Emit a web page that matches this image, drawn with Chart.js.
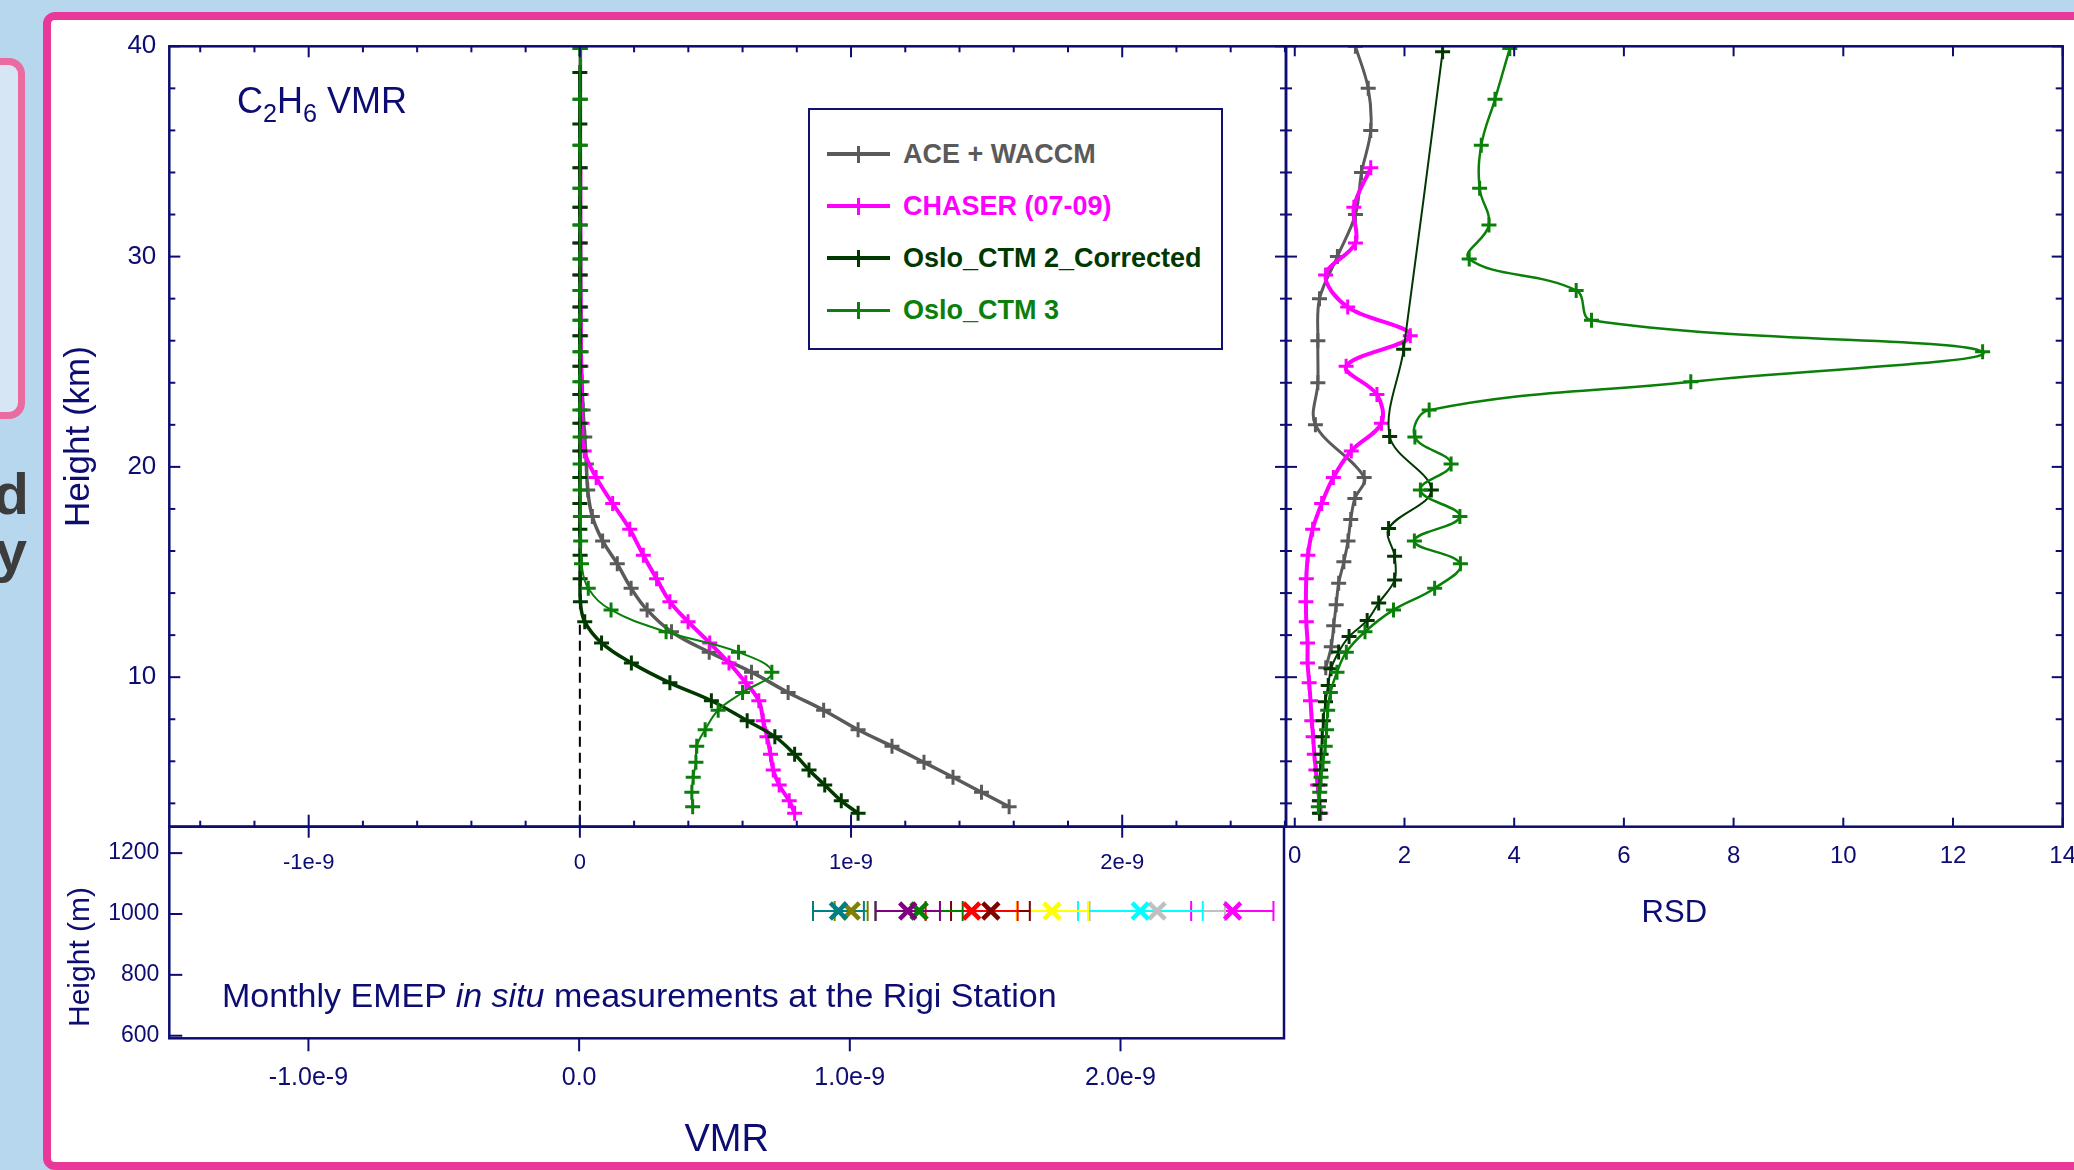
<!DOCTYPE html>
<html>
<head>
<meta charset="utf-8">
<title>C2H6 VMR and RSD profiles</title>
<script src="https://cdn.jsdelivr.net/npm/chart.js@4.4.0/dist/chart.umd.min.js"></script>
<style>
  html, body { margin: 0; padding: 0; }
  body { width: 2074px; height: 1170px; overflow: hidden; position: relative;
         background: #b6d7ee; font-family: "Liberation Sans", Arial, sans-serif; }
  .abs { position: absolute; }
  #sideBox { left: -40px; top: 58px; width: 65px; height: 361px; box-sizing: border-box;
             border: 7.5px solid #eb6aa0; border-radius: 16px; background: #d6e6f5; }
  .sideText { position: absolute; left: -100px; text-align: right; font-weight: bold;
              font-size: 58px; line-height: 58px; color: #3c3c3c; }
  #frame { left: 43px; top: 12px; width: 2100px; height: 1158px; box-sizing: border-box;
           border: 8px solid #e8389a; border-radius: 12px; background: #fff; }
  canvas { position: absolute; }
  #legend { left: 808px; top: 108px; width: 415px; height: 242px; box-sizing: border-box;
            border: 2px solid #10106e; background: #fff; }
  .sample { position: absolute; left: 17px; width: 63px; }
  .sample i { position: absolute; left: 30px; width: 3px; height: 17px; }
  .entry { position: absolute; left: 93px; font-weight: bold; font-size: 27px; line-height: 27px; white-space: nowrap; }
  .navy { color: #0c0c72; white-space: nowrap; }
  #species { left: 237px; top: 83px; font-size: 36px; line-height: 36px; }
  #species sub { font-size: 0.7em; vertical-align: -0.35em; line-height: 0; }
  #emepNote { left: 222px; top: 978px; font-size: 34px; line-height: 34px; }
  #heightM { left: 79px; top: 957px; font-size: 30px; line-height: 30px;
             transform: translate(-50%, -50%) rotate(-90deg); }
</style>
</head>
<body>
<div id="sideBox" class="abs"></div>
<div class="sideText" style="top:465px; width:129px;">d</div>
<div class="sideText" style="top:522px; width:127px;">y</div>
<div id="frame" class="abs"></div>

<canvas id="vmrChart" width="1300" height="900" style="left:0; top:0;"></canvas>
<canvas id="emepChart" width="1300" height="370" style="left:0; top:800px;"></canvas>
<canvas id="rsdChart" width="850" height="960" style="left:1270px; top:0;"></canvas>

<div id="legend" class="abs"></div>
<div id="species" class="abs navy">C<sub>2</sub>H<sub>6</sub> VMR</div>
<div id="emepNote" class="abs navy">Monthly EMEP <i>in situ</i> measurements at the Rigi Station</div>
<div id="heightM" class="abs navy">Height (m)</div>

<script>
const NAVY = '#0c0c72';
const GRAY = '#5a5a5a', MAGENTA = '#ff00ff', DKGREEN = '#003800', GREEN = '#0a800a';

const seriesNames = ['ACE + WACCM', 'CHASER (07-09)', 'Oslo_CTM 2_Corrected', 'Oslo_CTM 3'];
const seriesColors = [GRAY, MAGENTA, DKGREEN, GREEN];

// model levels (km): ACE+WACCM / Oslo_CTM 3 share one grid, CHASER / Oslo_CTM 2 the other
const levelsA = [3.84, 4.53, 5.24, 5.95, 6.72, 7.5, 8.43, 9.27, 10.24, 11.19, 12.16, 13.2, 14.23, 15.39,
  16.48, 17.64, 18.9, 20.14, 21.42, 22.7, 24.05, 25.47, 26.97, 28.39, 29.89, 31.5, 33.25, 35.29, 37.48, 39.9];
const levelsB = [3.53, 4.12, 4.87, 5.59, 6.33, 7.17, 7.93, 8.88, 9.73, 10.68, 11.63, 12.64, 13.59, 14.68,
  15.8, 17.03, 18.26, 19.5, 20.76, 22.08, 23.44, 24.79, 26.24, 27.6, 29.12, 30.65, 32.35, 34.22, 36.31, 38.75];

// VMR, in units of 1e-9
const aceVmr = [1.583, 1.481, 1.376, 1.269, 1.151, 1.026, 0.899, 0.768, 0.633, 0.477, 0.338, 0.248, 0.189, 0.138,
  0.084, 0.046, 0.029, 0.024, 0.018, 0.012, 0.008, 0.005, 0.004, 0.003, 0.003, 0.002, 0.002, 0.002, 0.002, 0.002];
const chaserVmr = [0.792, 0.772, 0.735, 0.713, 0.703, 0.690, 0.676, 0.660, 0.612, 0.550, 0.479, 0.399, 0.332, 0.283,
  0.234, 0.184, 0.121, 0.060, 0.016, 0.008, 0.005, 0.004, 0.003, 0.003, 0.002, 0.002, 0.002, 0.002];
const ctm2Vmr = [1.026, 0.964, 0.903, 0.845, 0.792, 0.719, 0.617, 0.485, 0.332, 0.190, 0.080, 0.018, 0.002, 0.001,
  0.001, 0, 0, 0, 0, 0, 0, 0, 0, 0, 0, 0, 0, 0, 0, 0];
const ctm3Vmr = [0.416, 0.413, 0.418, 0.428, 0.431, 0.462, 0.51, 0.60, 0.708, 0.585, 0.318, 0.115, 0.031, 0.006,
  0.003, 0.002, 0.001, 0.001, 0.001, 0, 0, 0, 0, 0, 0, 0, 0, 0, 0, 0];
const zeroLineHeights = [2.89, 12.7];

// RSD
const aceRsdHeights = [10.45, 11.45, 12.45, 13.45, 14.47, 15.49, 16.48, 17.5, 18.5, 19.5, 22, 24, 26, 28, 30, 32, 34, 36, 38, 40];
const aceRsd = [0.565, 0.665, 0.71, 0.755, 0.80, 0.895, 0.97, 1.02, 1.095, 1.265, 0.376, 0.421, 0.421, 0.451,
  0.777, 1.106, 1.217, 1.385, 1.339, 1.106];
const chaserRsd = [0.473, 0.448, 0.417, 0.385, 0.356, 0.335, 0.31, 0.287, 0.263, 0.233, 0.233, 0.21, 0.203, 0.21,
  0.24, 0.326, 0.49, 0.703, 1.03, 1.58, 1.498, 0.936, 2.106, 0.965, 0.562, 1.106, 1.077, 1.385];
const ctm2RsdHeights = [3.53, 4.12, 4.87, 5.59, 6.33, 7.17, 7.93, 8.83, 9.6, 10.4, 11.2, 11.93, 12.7, 13.53,
  14.62, 15.75, 17.07, 18.9, 21.45, 25.59, 39.74];
const ctm2Rsd = [0.45, 0.45, 0.46, 0.47, 0.48, 0.50, 0.52, 0.56, 0.61, 0.66, 0.80, 0.99, 1.32, 1.53,
  1.82, 1.82, 1.71, 2.49, 1.73, 1.985, 2.695];
const ctm3Rsd = [0.43, 0.455, 0.48, 0.515, 0.555, 0.58, 0.60, 0.65, 0.77, 0.94, 1.28, 1.80, 2.55, 3.02,
  2.18, 3.01, 2.29, 2.85, 2.19, 2.45, 7.22, 12.54, 5.41, 5.13, 3.18, 3.54, 3.37, 3.40, 3.65, 3.92];

// monthly EMEP in situ at Rigi (VMR 1e-9, with range)
const emepColors = ['#008080', '#808000', '#800080', '#008000', '#ff0000', '#800000', '#ffff00', '#00ffff', '#c0c0c0', '#ff00ff'];
const emepVmr  = [0.958, 1.005, 1.214, 1.256, 1.450, 1.521, 1.747, 2.073, 2.135, 2.414];
const emepLow  = [0.864, 0.944, 1.095, 1.095, 1.280, 1.374, 1.616, 1.843, 1.886, 2.261];
const emepHigh = [1.052, 1.066, 1.333, 1.417, 1.620, 1.665, 1.880, 2.304, 2.386, 2.565];
const emepHeight = 1010;

// axes
const vmrRange = [-1.514, 2.604], kmRange = [2.89, 40], rsdRange = [-0.16, 14], mRange = [591.5, 1286.8];
const vmrMajor = [-1, 0, 1, 2];
const kmMajor = [10, 20, 30, 40];
const rsdMajor = [0, 2, 4, 6, 8, 10, 12, 14];
const mMajor = [600, 800, 1000, 1200];

const vmrMinor = [];
for (let i = -7; i <= 13; i++) if (i % 5) vmrMinor.push(i / 5);
const kmMinor = [];
for (let h = 4; h < 40; h += 2) if (h % 10) kmMinor.push(h);

Chart.defaults.font.family = '"Liberation Sans", Arial, sans-serif';
Chart.defaults.color = NAVY;

// box round the plot area + ticks drawn through the scales
const frameTicks = {
  id: 'frameTicks',
  afterDraw(chart, args, opts) {
    const { ctx, chartArea: a } = chart;
    ctx.save();
    ctx.strokeStyle = NAVY;
    ctx.lineWidth = 2.5;
    ctx.strokeRect(a.left, a.top, a.right - a.left, a.bottom - a.top);
    ctx.lineWidth = 2;
    for (const m of opts.marks) {
      const horiz = m.side === 'top' || m.side === 'bottom';
      const sc = chart.scales[horiz ? 'x' : 'y'];
      const inn = m.inner || 0, out = m.outer || 0;
      for (const v of m.values) {
        const p = sc.getPixelForValue(v);
        ctx.beginPath();
        if (m.side === 'bottom') { ctx.moveTo(p, a.bottom - inn); ctx.lineTo(p, a.bottom + out); }
        else if (m.side === 'top') { ctx.moveTo(p, a.top + inn); ctx.lineTo(p, a.top - out); }
        else if (m.side === 'left') { ctx.moveTo(a.left + inn, p); ctx.lineTo(a.left - out, p); }
        else { ctx.moveTo(a.right - inn, p); ctx.lineTo(a.right + out, p); }
        ctx.stroke();
      }
    }
    ctx.restore();
  }
};

function profile(heights, values, i, width, order, tension) {
  return {
    label: seriesNames[i],
    data: values.map((x, k) => ({ x, y: heights[k] })),
    showLine: true,
    borderColor: seriesColors[i],
    borderWidth: width,
    pointStyle: 'cross',
    pointRadius: 7.5,
    pointBorderWidth: 3,
    pointBorderColor: seriesColors[i],
    pointBackgroundColor: seriesColors[i],
    tension: tension,
    order: order
  };
}

const baseOpts = {
  responsive: false,
  animation: false,
  events: [],
};
const noPlugins = { legend: { display: false }, tooltip: { enabled: false } };
const fixedTicks = list => scale => { scale.ticks = list.map(v => ({ value: v })); };

// ---- top left: VMR profiles
new Chart(document.getElementById('vmrChart'), {
  type: 'scatter',
  data: {
    datasets: [
      profile(levelsA, aceVmr, 0, 3.5, 4, 0.4),
      profile(levelsB, chaserVmr, 1, 4, 3, 0.4),
      profile(levelsB, ctm2Vmr, 2, 3.5, 2, 0.4),
      profile(levelsA, ctm3Vmr, 3, 2, 1, 0.4),
      {
        data: zeroLineHeights.map(y => ({ x: 0, y })),
        showLine: true, borderColor: '#000', borderWidth: 2, borderDash: [10, 6],
        pointRadius: 0, order: 5
      }
    ]
  },
  options: {
    ...baseOpts,
    layout: { padding: { top: 46.3, right: 14, left: 0, bottom: 0 } },
    plugins: {
      ...noPlugins,
      frameTicks: {
        marks: [
          { side: 'bottom', values: vmrMinor, inner: 6 },
          { side: 'bottom', values: vmrMajor, inner: 12, outer: 11 },
          { side: 'top', values: vmrMinor, inner: 6 },
          { side: 'top', values: vmrMajor, inner: 11 },
          { side: 'left', values: kmMinor, inner: 6 },
          { side: 'left', values: kmMajor, inner: 11 },
          { side: 'right', values: kmMinor, inner: 6 },
          { side: 'right', values: kmMajor, inner: 11 }
        ]
      }
    },
    scales: {
      x: {
        type: 'linear', min: vmrRange[0], max: vmrRange[1],
        grid: { display: false, drawTicks: false }, border: { display: false },
        afterBuildTicks: fixedTicks(vmrMajor),
        afterFit: s => { s.height = 73.3; },
        ticks: { padding: 23, font: { size: 22 }, autoSkip: false, maxRotation: 0,
                 callback: v => (v === 0 ? '0' : v + 'e-9') }
      },
      y: {
        type: 'linear', min: kmRange[0], max: kmRange[1],
        grid: { display: false, drawTicks: false }, border: { display: false },
        afterBuildTicks: fixedTicks(kmMajor),
        afterFit: s => { s.width = 169.3; },
        ticks: { padding: 13, font: { size: 26 }, autoSkip: false, callback: v => String(v) },
        title: { display: true, text: 'Height (km)', font: { size: 35 }, padding: { top: 58 } }
      }
    }
  },
  plugins: [frameTicks]
});

// ---- right: relative standard deviation
new Chart(document.getElementById('rsdChart'), {
  type: 'scatter',
  data: {
    datasets: [
      profile(aceRsdHeights, aceRsd, 0, 3, 4, 0.35),
      profile(levelsB, chaserRsd, 1, 4, 3, 0.35),
      profile(ctm2RsdHeights, ctm2Rsd, 2, 2, 2, 0.35),
      profile(levelsA, ctm3Rsd, 3, 2.5, 1, 0.4)
    ]
  },
  options: {
    ...baseOpts,
    layout: { padding: { top: 46.3, right: 57.3, left: 16, bottom: 0 } },
    plugins: {
      ...noPlugins,
      frameTicks: {
        marks: [
          { side: 'top', values: rsdMajor, inner: 10 },
          { side: 'bottom', values: rsdMajor, inner: 9 },
          { side: 'left', values: kmMinor, inner: 6 },
          { side: 'left', values: kmMajor, inner: 11 },
          { side: 'right', values: kmMinor, inner: 7 },
          { side: 'right', values: kmMajor, inner: 11 }
        ]
      }
    },
    scales: {
      x: {
        type: 'linear', min: rsdRange[0], max: rsdRange[1],
        grid: { display: false, drawTicks: false }, border: { display: false },
        afterBuildTicks: fixedTicks(rsdMajor),
        afterFit: s => { s.height = 133.3; },
        ticks: { padding: 15, font: { size: 24 }, autoSkip: false, maxRotation: 0, callback: v => String(v) },
        title: { display: true, text: 'RSD', font: { size: 31 }, padding: { bottom: 28 } }
      },
      y: { type: 'linear', min: kmRange[0], max: kmRange[1], display: false }
    }
  },
  plugins: [frameTicks]
});

// ---- bottom: EMEP in situ measurements
const emepSets = [];
emepVmr.forEach((v, i) => {
  emepSets.push({
    data: [{ x: emepLow[i], y: emepHeight }, { x: emepHigh[i], y: emepHeight }],
    showLine: true, borderColor: emepColors[i], borderWidth: 2,
    pointStyle: 'line', pointRotation: 90, pointRadius: 10, pointBorderWidth: 2,
    pointBorderColor: emepColors[i], order: 2
  });
  emepSets.push({
    data: [{ x: v, y: emepHeight }],
    pointStyle: 'crossRot', pointRadius: 11.5, pointBorderWidth: 4.5,
    pointBorderColor: emepColors[i], order: 1
  });
});

new Chart(document.getElementById('emepChart'), {
  type: 'scatter',
  data: { datasets: emepSets },
  options: {
    ...baseOpts,
    layout: { padding: { top: 26.7, right: 14, left: 0, bottom: 0 } },
    plugins: {
      ...noPlugins,
      frameTicks: {
        marks: [
          { side: 'left', values: mMajor, inner: 13 },
          { side: 'bottom', values: vmrMajor, outer: 13 }
        ]
      }
    },
    scales: {
      x: {
        type: 'linear', min: vmrRange[0], max: vmrRange[1],
        grid: { display: false, drawTicks: false }, border: { display: false },
        afterBuildTicks: fixedTicks(vmrMajor),
        afterFit: s => { s.height = 131.7; },
        ticks: { padding: 25, font: { size: 25 }, autoSkip: false, maxRotation: 0,
                 callback: v => v.toFixed(1) + (v === 0 ? '' : 'e-9') },
        title: { display: true, text: 'VMR', font: { size: 38 }, padding: { bottom: 7 } }
      },
      y: {
        type: 'linear', min: mRange[0], max: mRange[1],
        grid: { display: false, drawTicks: false }, border: { display: false },
        afterBuildTicks: fixedTicks(mMajor),
        afterFit: s => { s.width = 169.3; },
        ticks: { padding: 10, font: { size: 23 }, autoSkip: false, callback: v => String(v) }
      }
    }
  },
  plugins: [frameTicks]
});

// ---- legend box
const legendWidths = [3.5, 3.5, 4, 2.5];
const legendBox = document.getElementById('legend');
seriesNames.forEach((name, i) => {
  const cy = 44 + i * 52.1;
  const w = legendWidths[i];
  const s = document.createElement('div');
  s.className = 'sample';
  s.style.top = (cy - w / 2) + 'px';
  s.style.height = w + 'px';
  s.style.background = seriesColors[i];
  const tick = document.createElement('i');
  tick.style.background = seriesColors[i];
  tick.style.top = (w / 2 - 8.5) + 'px';
  s.appendChild(tick);
  legendBox.appendChild(s);
  const t = document.createElement('div');
  t.className = 'entry';
  t.style.top = (cy - 13.5) + 'px';
  t.style.color = seriesColors[i];
  t.textContent = name;
  legendBox.appendChild(t);
});
</script>
</body>
</html>
